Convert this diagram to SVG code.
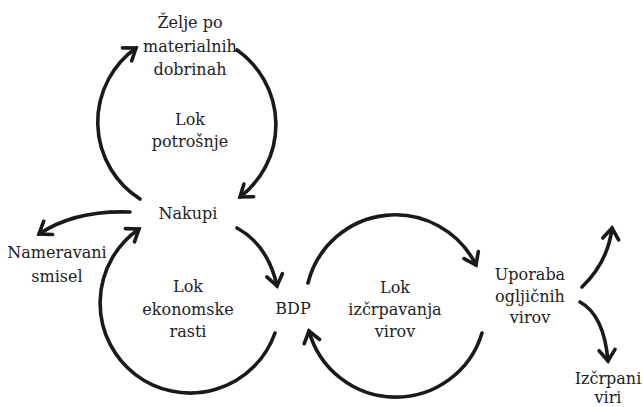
<svg xmlns="http://www.w3.org/2000/svg" width="643" height="407" viewBox="0 0 643 407">
<style>
text{font-family:"DejaVu Serif",serif;font-size:16px;fill:#222;text-anchor:middle}
.c{fill:none;stroke:#1a1a1a;stroke-width:3.6;stroke-linecap:round;marker-end:url(#ah)}
</style>
<defs>
<marker id="ah" markerUnits="userSpaceOnUse" markerWidth="30" markerHeight="30" viewBox="-15 -15 30 30" refX="0" refY="0" orient="auto" overflow="visible">
<path d="M-11,-8 L0,0 L-11,8" fill="none" stroke="#1a1a1a" stroke-width="3.6" stroke-linecap="round" stroke-linejoin="miter"/>
</marker>
</defs>
<rect width="643" height="407" fill="#fff"/>
<g id="connectors">
<path class="c" d="M140,199 A91,91 0 0 1 136,48"/>
<path class="c" d="M237,50 A91,91 0 0 1 240,197"/>
<path class="c" d="M275,333 A90,90 0 1 1 139,229"/>
<path class="c" d="M237,228 Q268,245 277,286"/>
<path class="c" d="M130,212 Q75,210 39,234"/>
<path class="c" d="M308,283 A90,90 0 0 1 476,265"/>
<path class="c" d="M482,333 A90,90 0 0 1 309,331"/>
<path class="c" d="M582,287 Q608,262 612,228"/>
<path class="c" d="M580,302 Q604,315 608,361"/>
</g>
<g id="zelje"><text x="190" y="28">Želje po</text><text x="190" y="52">materialnih</text><text x="190" y="75">dobrinah</text></g>
<g id="lok-potrosnje"><text x="190" y="125">Lok</text><text x="190" y="147">potrošnje</text></g>
<g id="nakupi"><text x="188" y="219">Nakupi</text></g>
<g id="nameravani"><text x="57" y="258">Nameravani</text><text x="57" y="282">smisel</text></g>
<g id="lok-rasti"><text x="188" y="292">Lok</text><text x="188" y="315">ekonomske</text><text x="188" y="337">rasti</text></g>
<g id="bdp"><text x="293" y="314">BDP</text></g>
<g id="lok-izcrpavanja"><text x="395" y="293">Lok</text><text x="395" y="315">izčrpavanja</text><text x="395" y="337">virov</text></g>
<g id="uporaba"><text x="530" y="280">Uporaba</text><text x="530" y="302">ogljičnih</text><text x="530" y="323">virov</text></g>
<g id="izcrpani"><text x="608" y="384">Izčrpani</text><text x="608" y="403">viri</text></g>
</svg>
